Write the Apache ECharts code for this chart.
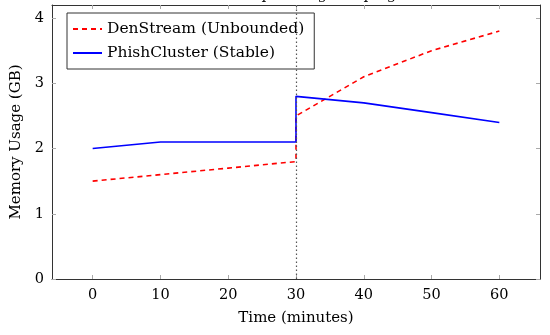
<!DOCTYPE html>
<html><head><meta charset="utf-8">
<script src="https://cdn.jsdelivr.net/npm/echarts@6/dist/echarts.min.js"></script>
<style>html,body{margin:0;padding:0;background:#fff}#c{width:550px;height:335px}</style>
</head><body><div id="c"></div>
<script>
const denTimes = [0, 10, 20, 30, 30, 40, 50, 60];
const denValues = [1.5, 1.6, 1.7, 1.8, 2.5, 3.1, 3.5, 3.8];
const phishTimes = [0, 10, 20, 30, 30, 40, 50, 60];
const phishValues = [2.0, 2.1, 2.1, 2.1, 2.8, 2.7, 2.55, 2.4];
const xTicks = [0, 10, 20, 30, 40, 50, 60];
const yTicks = [0, 1, 2, 3, 4];
const eventTime = 30;
const seriesNames = ['DenStream (Unbounded)', 'PhishCluster (Stable)'];

const font = 'DejaVu Serif, Liberation Serif, serif';
const chart = echarts.init(document.getElementById('c'), null, {renderer: 'canvas'});
const axisCommon = {
  axisLine: {show: true, onZero: false, lineStyle: {color: '#333', width: 1}},
  splitLine: {show: false}
};
chart.setOption({
  animation: false,
  textStyle: {fontFamily: font},
  grid: {left: 52, right: 10, top: 5, bottom: 56, containLabel: false},
  legend: {
    orient: 'vertical', left: 67, top: 13, data: seriesNames,
    borderColor: '#333', borderWidth: 1, padding: [8, 10, 8, 5], itemGap: 8,
    itemWidth: 29, itemHeight: 14,
    itemStyle: {opacity: 0},
    textStyle: {fontFamily: font, fontSize: 15.5, color: '#000'}
  },
  xAxis: [{
    type: 'value', min: -6, max: 66, ...axisCommon,
    axisTick: {show: true, inside: true, length: 4, lineStyle: {color: '#aaa'}, customValues: xTicks},
    axisLabel: {customValues: xTicks, color: '#000', fontSize: 14.5, fontFamily: font, margin: 9},
    name: 'Time (minutes)', nameLocation: 'middle', nameGap: 32,
    nameTextStyle: {fontFamily: font, fontSize: 15, color: '#000'}
  }, {
    type: 'value', min: -6, max: 66, position: 'top', ...axisCommon,
    axisTick: {show: true, inside: true, length: 4, lineStyle: {color: '#aaa'}, customValues: xTicks},
    axisLabel: {show: false}
  }],
  yAxis: [{
    type: 'value', min: 0, max: 4.2, ...axisCommon,
    axisTick: {show: true, inside: true, length: 4, lineStyle: {color: '#aaa'}, customValues: yTicks},
    axisLabel: {customValues: yTicks, color: '#000', fontSize: 14.5, fontFamily: font, margin: 8},
    name: 'Memory Usage (GB)', nameLocation: 'middle', nameGap: 26, nameRotate: 90,
    nameTextStyle: {fontFamily: font, fontSize: 15, color: '#000'}
  }, {
    type: 'value', min: 0, max: 4.2, position: 'right', ...axisCommon,
    axisTick: {show: true, inside: true, length: 4, lineStyle: {color: '#aaa'}, customValues: yTicks},
    axisLabel: {show: false}
  }],
  series: [{
    name: seriesNames[0], type: 'line', symbol: 'none', z: 3,
    data: denTimes.map((t, i) => [t, denValues[i]]),
    lineStyle: {color: '#ff0000', width: 1.6, type: [5, 4]},
    itemStyle: {color: '#ff0000'},
    markLine: {
      silent: true, symbol: 'none', label: {show: false},
      lineStyle: {color: '#555', type: [1.5, 2.5], width: 1.2},
      data: [{xAxis: eventTime}]
    }
  }, {
    name: seriesNames[1], type: 'line', symbol: 'none', z: 4,
    data: phishTimes.map((t, i) => [t, phishValues[i]]),
    lineStyle: {color: '#0000ff', width: 1.6},
    itemStyle: {color: '#0000ff'}
  }],
  graphic: [{
    type: 'text', left: 222, top: -12, z: 0,
    style: {text: 'New phishing campaign', fontFamily: font, fontSize: 15, fill: '#000'}
  }]
});
</script></body></html>
